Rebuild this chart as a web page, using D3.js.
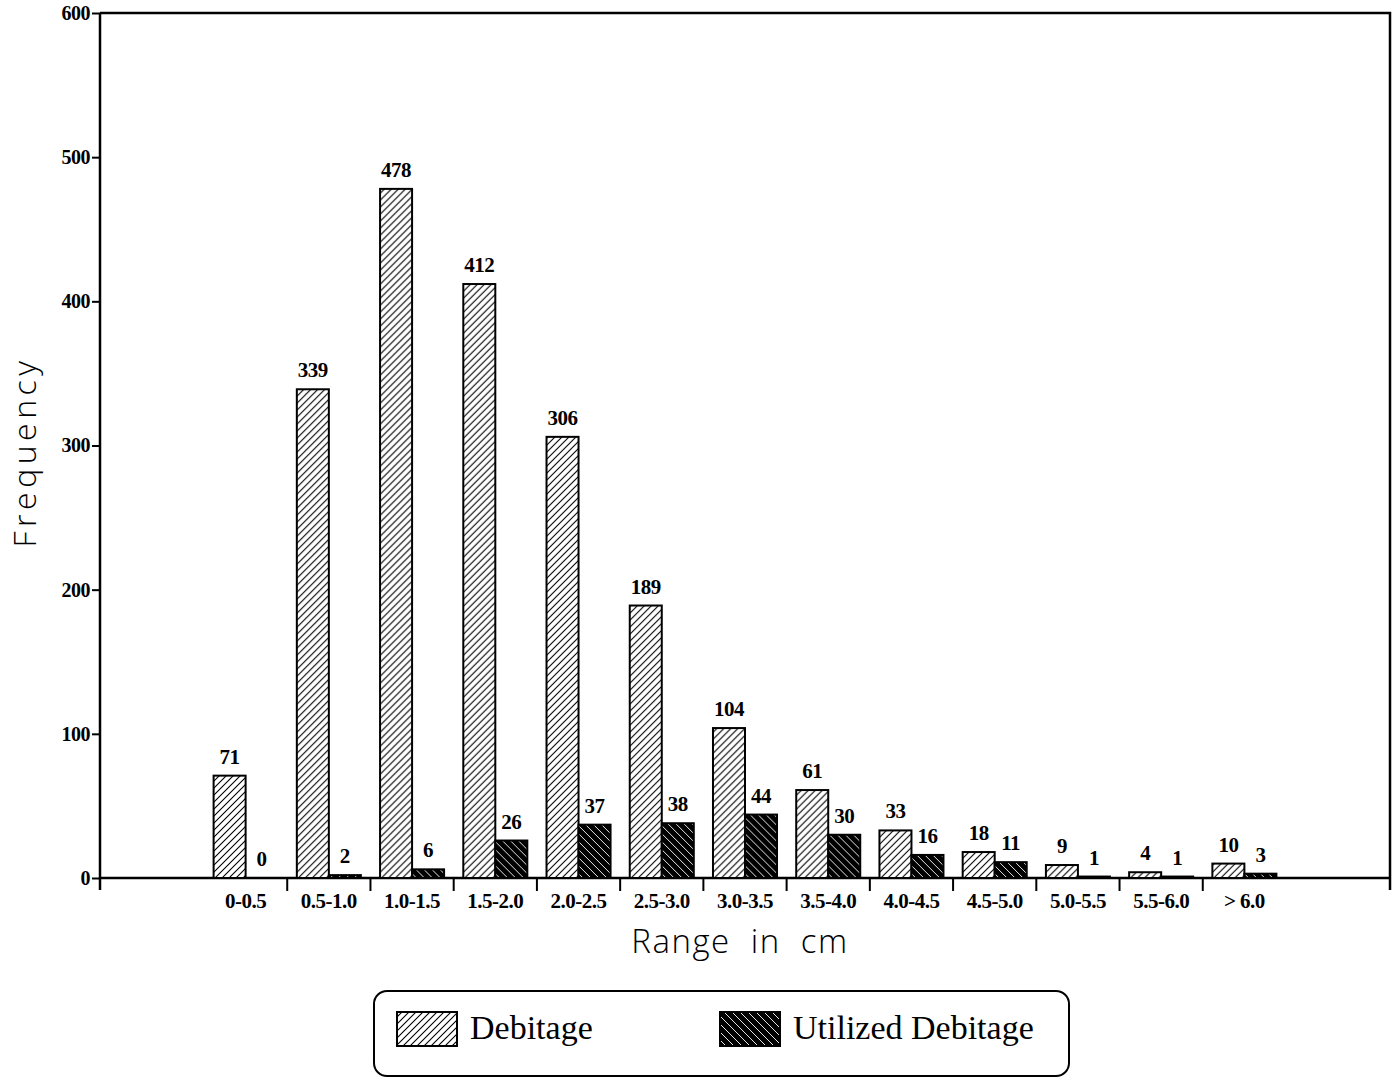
<!DOCTYPE html>
<html>
<head>
<meta charset="utf-8">
<script src="https://cdn.jsdelivr.net/npm/d3@7"></script>
<style>
  body { margin: 0; background: #fff; }
  svg { display: block; }
</style>
</head>
<body>
<svg id="chart" width="1399" height="1077"></svg>
<script>
const categories = ['0-0.5', '0.5-1.0', '1.0-1.5', '1.5-2.0', '2.0-2.5', '2.5-3.0', '3.0-3.5',
  '3.5-4.0', '4.0-4.5', '4.5-5.0', '5.0-5.5', '5.5-6.0', '> 6.0']
const debitage = [71, 339, 478, 412, 306, 189, 104, 61, 33, 18, 9, 4, 10]
const utilized = [0, 2, 6, 26, 37, 38, 44, 30, 16, 11, 1, 1, 3]
const yTicks = [0, 100, 200, 300, 400, 500, 600]
const seriesNames = ['Debitage', 'Utilized Debitage']

const svg = d3.select('#chart')
const serif = '"Liberation Serif", "Times New Roman", serif'
const sans = '"Open Sans", "DejaVu Sans", sans-serif'

// hatch patterns
const defs = svg.append('defs')
const p1 = defs.append('pattern').attr('id', 'hatchDeb')
  .attr('patternUnits', 'userSpaceOnUse').attr('width', 7).attr('height', 7)
p1.append('rect').attr('width', 7).attr('height', 7).attr('fill', '#fff')
p1.append('path').attr('d', 'M-2,2 l4,-4 M0,7 l7,-7 M5,9 l4,-4')
  .attr('stroke', '#000').attr('stroke-width', 1.1)
const p2 = defs.append('pattern').attr('id', 'hatchUtil')
  .attr('patternUnits', 'userSpaceOnUse').attr('width', 8).attr('height', 8)
p2.append('rect').attr('width', 8).attr('height', 8).attr('fill', '#000')
p2.append('path').attr('d', 'M-2,6 l4,4 M0,0 l8,8 M6,-2 l4,4')
  .attr('stroke', '#fff').attr('stroke-width', 0.9)
const fills = ['url(#hatchDeb)', 'url(#hatchUtil)']

const x = d3.scaleBand().domain(categories).range([204, 1286]).paddingInner(0)
const x1 = d3.scaleBand().domain([0, 1]).range([0, x.bandwidth()]).paddingInner(0).paddingOuter(0.3)
const y = d3.scaleLinear().domain([0, 600]).range([878, 13])

// frame: top line and right border
svg.append('path')
  .attr('d', `M100,${y(600)} H1390 V890`)
  .attr('fill', 'none').attr('stroke', '#000').attr('stroke-width', 2.5)

// y axis
const yAxis = svg.append('g').attr('transform', 'translate(100,0)')
  .call(d3.axisLeft(y).tickValues(yTicks).tickSize(8).tickPadding(2))
yAxis.select('.domain').remove()
yAxis.selectAll('line').attr('stroke', '#000').attr('stroke-width', 2)
yAxis.selectAll('text').attr('font-family', serif).attr('font-weight', 'bold')
  .attr('font-size', 20).attr('letter-spacing', -0.5).attr('fill', '#000')
svg.append('line').attr('x1', 100).attr('x2', 100).attr('y1', y(600)).attr('y2', 890)
  .attr('stroke', '#000').attr('stroke-width', 2.5)

// x axis baseline
svg.append('line').attr('x1', 100).attr('x2', 1390).attr('y1', y(0)).attr('y2', y(0))
  .attr('stroke', '#000').attr('stroke-width', 2.5)

// boundary ticks between categories
svg.append('g').selectAll('line')
  .data(categories.slice(1))
  .join('line')
  .attr('x1', d => x(d)).attr('x2', d => x(d))
  .attr('y1', y(0)).attr('y2', y(0) + 13)
  .attr('stroke', '#000').attr('stroke-width', 2)

// category labels
const xAxis = svg.append('g').attr('transform', `translate(0,${y(0)})`)
  .call(d3.axisBottom(x).tickSize(0).tickPadding(15))
xAxis.select('.domain').remove()
xAxis.selectAll('text').attr('font-family', serif).attr('font-weight', 'bold')
  .attr('font-size', 21).attr('letter-spacing', -0.5).attr('fill', '#000')

// bars
const rows = categories.map((c, i) => ({c, vals: [debitage[i], utilized[i]]}))
const groups = svg.append('g').selectAll('g')
  .data(rows).join('g')
  .attr('transform', d => `translate(${x(d.c)},0)`)

groups.selectAll('rect')
  .data(d => d.vals.map((v, k) => ({v, k})))
  .join('rect')
  .attr('x', d => x1(d.k))
  .attr('width', x1.bandwidth())
  .attr('y', d => y(d.v))
  .attr('height', d => y(0) - y(d.v))
  .attr('fill', d => fills[d.k])
  .attr('stroke', '#000').attr('stroke-width', 2)

groups.selectAll('text')
  .data(d => d.vals.map((v, k) => ({v, k})))
  .join('text')
  .attr('x', d => x1(d.k) + x1.bandwidth() / 2)
  .attr('y', d => y(d.v) - 12)
  .attr('text-anchor', 'middle')
  .attr('font-family', serif).attr('font-weight', 'bold').attr('font-size', 21)
  .attr('letter-spacing', -0.5)
  .text(d => d.v)

// axis titles
svg.append('text').attr('x', 740).attr('y', 953).attr('text-anchor', 'middle')
  .attr('font-family', sans).attr('font-weight', 300).attr('font-size', 33)
  .attr('letter-spacing', 1.5).attr('word-spacing', 10)
  .text('Range in cm')
svg.append('text').attr('transform', 'translate(36,452) rotate(-90)')
  .attr('text-anchor', 'middle')
  .attr('font-family', sans).attr('font-weight', 300).attr('font-size', 32)
  .attr('letter-spacing', 4.5)
  .text('Frequency')

// legend
const legend = svg.append('g')
legend.append('rect').attr('x', 374).attr('y', 991).attr('width', 695).attr('height', 85)
  .attr('rx', 13).attr('fill', 'none').attr('stroke', '#000').attr('stroke-width', 2)
const legendX = [397, 720]
seriesNames.forEach((name, k) => {
  legend.append('rect').attr('x', legendX[k]).attr('y', 1012).attr('width', 60).attr('height', 34)
    .attr('fill', fills[k]).attr('stroke', '#000').attr('stroke-width', 2)
  legend.append('text').attr('x', legendX[k] + 73).attr('y', 1039)
    .attr('font-family', serif).attr('font-size', 34).text(name)
})
</script>
</body>
</html>
